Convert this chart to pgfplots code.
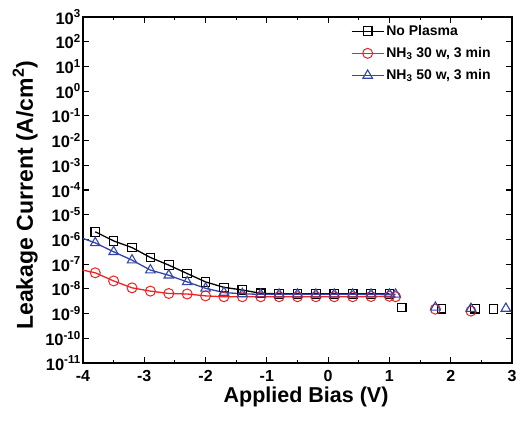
\documentclass[border=0pt]{standalone}
\usepackage{pgfplots}
\pgfplotsset{compat=1.18}
\usepackage{fontspec}
\setmainfont{Liberation Sans}
\definecolor{myred}{RGB}{235,35,35}
\definecolor{myblue}{RGB}{50,70,170}
\begin{document}
\begin{tikzpicture}
\begin{axis}[
  scale only axis,
  width=429bp, height=346bp,
  xmin=-4, xmax=3,
  ymode=log, log basis y=10,
  ymin=1e-11, ymax=1e3,
  xtick={-4,-3,-2,-1,0,1,2,3},
  xticklabels={-4,-3,-2,-1,0,1,2,3},
  minor x tick num=1,
  ytick={1e-11,1e-10,1e-9,1e-8,1e-7,1e-6,1e-5,1e-4,1e-3,1e-2,1e-1,1,1e1,1e2,1e3},
  yticklabels={10\textsuperscript{-11},10\textsuperscript{-10},10\textsuperscript{-9},10\textsuperscript{-8},10\textsuperscript{-7},10\textsuperscript{-6},10\textsuperscript{-5},10\textsuperscript{-4},10\textsuperscript{-3},10\textsuperscript{-2},10\textsuperscript{-1},10\textsuperscript{0},10\textsuperscript{1},10\textsuperscript{2},10\textsuperscript{3}},
  yticklabel style={font=\bfseries\fontsize{16.5bp}{16.5bp}\selectfont, xshift=-1bp, inner sep=1bp},
  xticklabel style={font=\bfseries\fontsize{16bp}{16bp}\selectfont, yshift=-4bp},
  major tick length=6bp, minor tick length=3bp,
  every tick/.style={black, line width=1.1bp},
  axis line style={line width=2.2bp},
  xlabel={Applied Bias (V)},
  ylabel={Leakage Current (A/cm\textsuperscript{2})},
  xlabel style={font=\bfseries\fontsize{21.5bp}{21.5bp}\selectfont, at={(axis description cs:0.52,-0.097)}, anchor=center},
  ylabel style={font=\bfseries\fontsize{23bp}{23bp}\selectfont, at={(axis description cs:-0.135,0.485)}, anchor=center},
  legend style={draw=none, fill=none, at={(axis description cs:0.622,0.985)}, anchor=north west,
    font=\bfseries\fontsize{14bp}{14bp}\selectfont, row sep=6.5bp, inner sep=1bp},
  legend cell align=left,
  legend image code/.code={\draw[mark repeat=2,mark phase=2] plot coordinates {(0bp,0bp)(16bp,0bp)(32bp,0bp)};},
  every axis plot/.append style={line width=1.3bp},
]
\coordinate (sw) at (rel axis cs:0,0);
\addplot[black, mark=square, mark size=4.3bp, mark options={solid, fill=white, line width=1.1bp}] coordinates {
(-3.8,2.04e-6) (-3.5,8.71e-7) (-3.2,4.68e-7) (-2.9,1.86e-7) (-2.6,9.12e-8) (-2.3,4.17e-8)
(-2.0,1.91e-8) (-1.7,1.15e-8) (-1.4,9.0e-9) (-1.1,6.6e-9) (-0.8,6.3e-9) (-0.5,6.3e-9)
(-0.2,6.3e-9) (0.1,6.3e-9) (0.4,6.3e-9) (0.7,6.3e-9) (1.0,6.3e-9)
};
\addlegendentry{No Plasma}
\addplot[myred, mark=o, mark size=5bp, mark options={solid, fill=white, line width=1.0bp}] coordinates {
(-4.1,6.46e-8) (-3.8,4.47e-8) (-3.5,2.09e-8) (-3.2,1.10e-8) (-2.9,8.1e-9) (-2.6,6.5e-9)
(-2.3,6.2e-9) (-2.0,5.2e-9) (-1.7,4.8e-9) (-1.4,4.8e-9) (-1.1,4.8e-9) (-0.8,4.8e-9)
(-0.5,4.8e-9) (-0.2,4.8e-9) (0.1,4.8e-9) (0.4,4.8e-9) (0.7,4.9e-9) (1.0,5.0e-9) (1.1,4.8e-9)
};
\addlegendentry{NH\textsubscript{3} 30 w, 3 min}
\addplot[myblue, mark=triangle, mark size=5.5bp, mark options={solid, fill=white, line width=1.1bp}] coordinates {
(-4.1,1.35e-6) (-3.8,7.24e-7) (-3.5,3.16e-7) (-3.2,1.45e-7) (-2.9,5.75e-8) (-2.6,3.55e-8)
(-2.3,1.91e-8) (-2.0,1.05e-8) (-1.7,7.1e-9) (-1.4,6.3e-9) (-1.1,6.0e-9) (-0.8,6.0e-9)
(-0.5,6.0e-9) (-0.2,6.0e-9) (0.1,6.0e-9) (0.4,6.0e-9) (0.7,6.0e-9) (1.0,6.0e-9) (1.1,6.0e-9)
};
\addlegendentry{NH\textsubscript{3} 50 w, 3 min}
\addplot[only marks, black, mark=square, mark size=4.3bp, mark options={solid, fill=white, line width=1.1bp}, forget plot] coordinates {
(1.2,1.78e-9) (1.85,1.58e-9) (2.4,1.58e-9) (2.7,1.55e-9)
};
\addplot[only marks, myred, mark=o, mark size=5bp, mark options={solid, fill=white, line width=1.0bp}, forget plot] coordinates {
(1.75,1.51e-9) (2.33,1.26e-9)
};
\addplot[only marks, myblue, mark=triangle, mark size=5.5bp, mark options={solid, fill=white, line width=1.1bp}, forget plot] coordinates {
(1.75,1.78e-9) (2.33,1.58e-9) (2.9,1.6e-9)
};
\end{axis}
\path (sw) ++(-83bp,-58bp) rectangle ++(523bp,421bp);
\end{tikzpicture}
\end{document}
